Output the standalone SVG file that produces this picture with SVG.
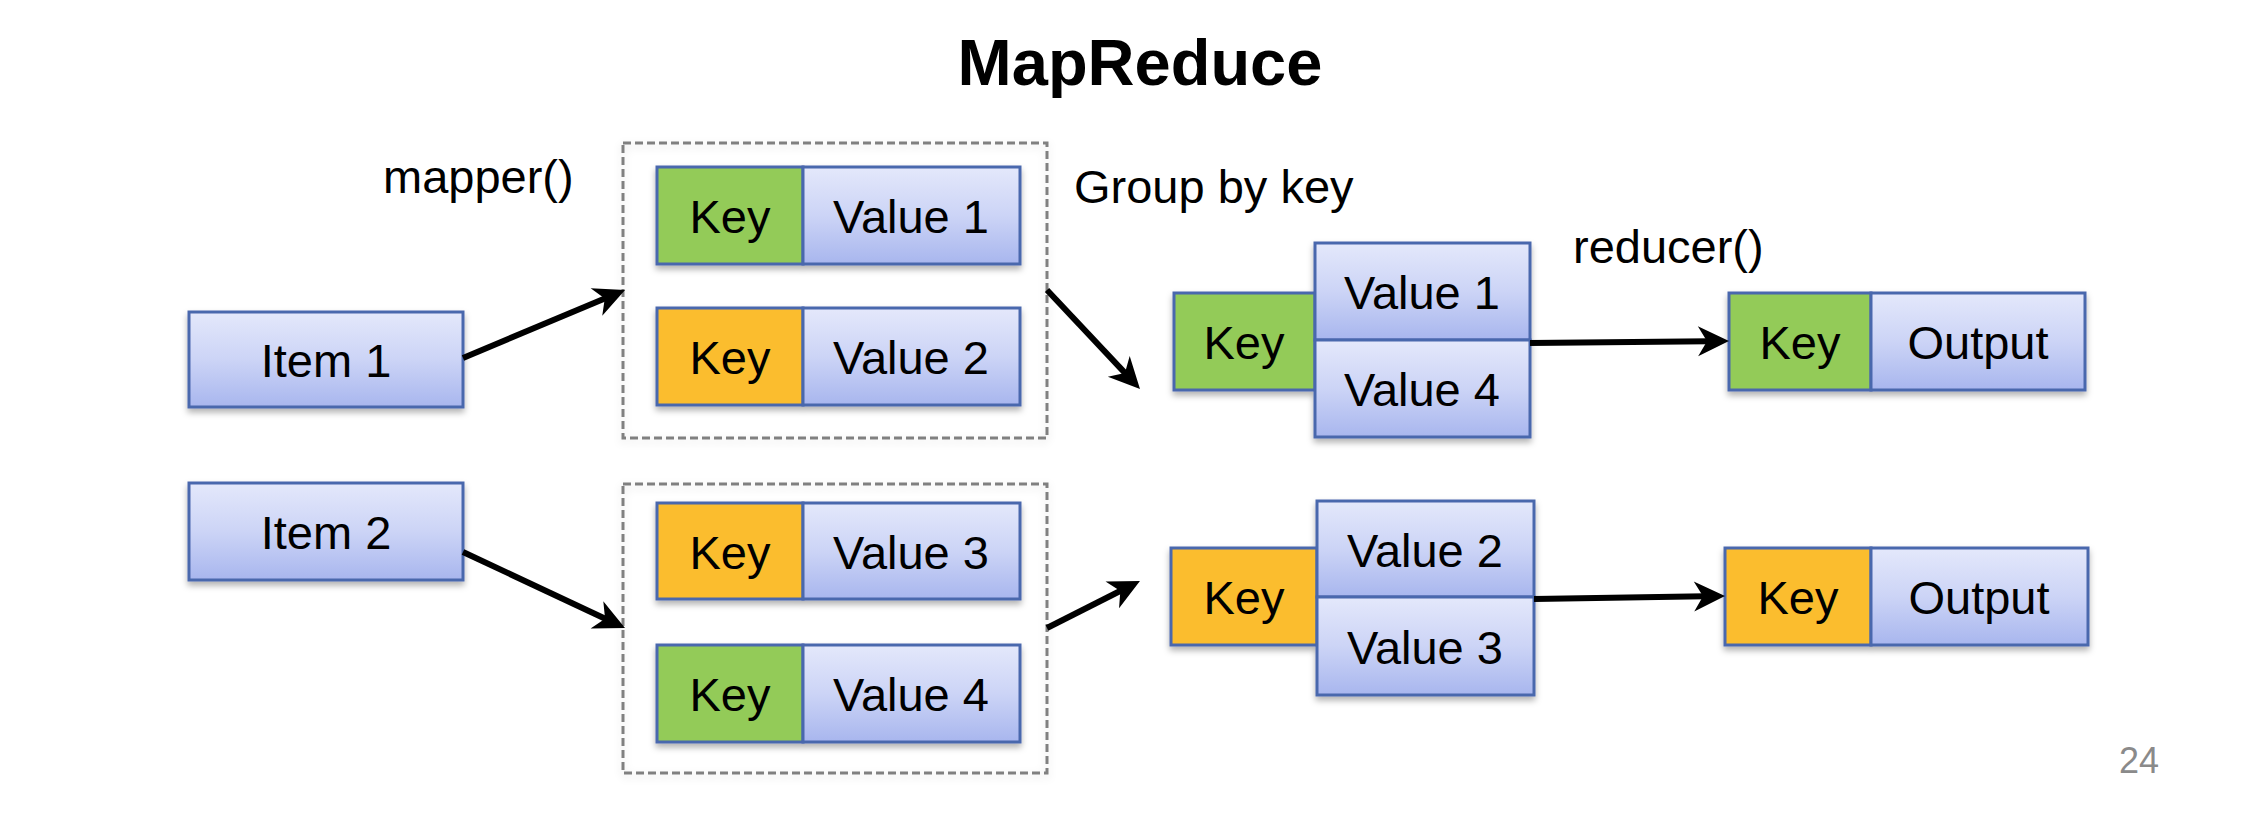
<svg xmlns="http://www.w3.org/2000/svg" width="2266" height="824" viewBox="0 0 2266 824">
<style>
  .lbl { font-family: "Liberation Sans", Arial, Helvetica, sans-serif; font-size: 47px; fill: #000; }
  .c { text-anchor: middle; }
  .title { font-family: "Liberation Sans", Arial, Helvetica, sans-serif; font-size: 65px; font-weight: bold; fill: #000; text-anchor: middle; }
  .pg { font-family: "Liberation Sans", Arial, Helvetica, sans-serif; font-size: 36px; fill: #8a8a8a; }
  .val { fill: url(#vg); stroke: #4a67ad; stroke-width: 3; }
  .kg { fill: #93cb58; stroke: #4a67ad; stroke-width: 3; }
  .ko { fill: #fbbd2e; stroke: #4a67ad; stroke-width: 3; }
  .dash { fill: none; stroke: #808080; stroke-width: 3; stroke-dasharray: 8 4; }
  .sh { filter: url(#ds); }
  .conn line { stroke: #000; stroke-width: 6; marker-end: url(#ah); }
</style>
<defs>
  <linearGradient id="vg" x1="0" y1="0" x2="0" y2="1">
    <stop offset="0" stop-color="#e4e8fb"/>
    <stop offset="0.5" stop-color="#ccd4f6"/>
    <stop offset="1" stop-color="#a8b6ee"/>
  </linearGradient>
  <filter id="ds" x="-10%" y="-10%" width="120%" height="130%">
    <feDropShadow dx="0" dy="4" stdDeviation="3" flood-color="#000" flood-opacity="0.3"/>
  </filter>
  <filter id="ds2" x="-10%" y="-10%" width="120%" height="120%">
    <feDropShadow dx="0" dy="3" stdDeviation="4" flood-color="#000" flood-opacity="0.12"/>
  </filter>
  <marker id="ah" markerUnits="userSpaceOnUse" viewBox="-14 -17 36 34" refX="0" refY="0" markerWidth="36" markerHeight="34" orient="auto">
    <path d="M20,0 L-11,-15 L-2,0 L-11,15 Z" fill="#000"/>
  </marker>
</defs>

<rect x="0" y="0" width="2266" height="824" fill="#fff"/>

<text class="title" x="1140" y="85">MapReduce</text>
<text class="lbl" x="383" y="193">mapper()</text>
<text class="lbl" x="1074" y="203">Group by key</text>
<text class="lbl" x="1573" y="263">reducer()</text>
<text class="pg" x="2119" y="773">24</text>

<g id="item1">
  <rect class="val sh" x="189" y="312" width="274" height="95"/>
  <text class="lbl c" x="326" y="377">Item 1</text>
</g>
<g id="item2">
  <rect class="val sh" x="189" y="483" width="274" height="97"/>
  <text class="lbl c" x="326" y="549">Item 2</text>
</g>

<g id="map1">
  <rect class="dash" x="623" y="143" width="424" height="295" style="filter:url(#ds2)"/>
  <g class="sh">
    <rect class="kg" x="657" y="167" width="146" height="97"/>
    <rect class="val" x="803" y="167" width="217" height="97"/>
    <rect class="ko" x="657" y="308" width="146" height="97"/>
    <rect class="val" x="803" y="308" width="217" height="97"/>
  </g>
  <text class="lbl c" x="730" y="233">Key</text>
  <text class="lbl c" x="911" y="233">Value 1</text>
  <text class="lbl c" x="730" y="374">Key</text>
  <text class="lbl c" x="911" y="374">Value 2</text>
</g>

<g id="map2">
  <rect class="dash" x="623" y="484" width="424" height="289" style="filter:url(#ds2)"/>
  <g class="sh">
    <rect class="ko" x="657" y="503" width="146" height="96"/>
    <rect class="val" x="803" y="503" width="217" height="96"/>
    <rect class="kg" x="657" y="645" width="146" height="97"/>
    <rect class="val" x="803" y="645" width="217" height="97"/>
  </g>
  <text class="lbl c" x="730" y="569">Key</text>
  <text class="lbl c" x="911" y="569">Value 3</text>
  <text class="lbl c" x="730" y="711">Key</text>
  <text class="lbl c" x="911" y="711">Value 4</text>
</g>

<g id="group1">
  <g class="sh">
    <rect class="kg" x="1174" y="293" width="141" height="97"/>
    <rect class="val" x="1315" y="243" width="215" height="97"/>
    <rect class="val" x="1315" y="340" width="215" height="97"/>
  </g>
  <text class="lbl c" x="1244" y="359">Key</text>
  <text class="lbl c" x="1422" y="309">Value 1</text>
  <text class="lbl c" x="1422" y="406">Value 4</text>
</g>

<g id="group2">
  <g class="sh">
    <rect class="ko" x="1171" y="548" width="146" height="97"/>
    <rect class="val" x="1317" y="501" width="217" height="96"/>
    <rect class="val" x="1317" y="597" width="217" height="98"/>
  </g>
  <text class="lbl c" x="1244" y="614">Key</text>
  <text class="lbl c" x="1425" y="567">Value 2</text>
  <text class="lbl c" x="1425" y="664">Value 3</text>
</g>

<g id="out1">
  <g class="sh">
    <rect class="kg" x="1729" y="293" width="142" height="97"/>
    <rect class="val" x="1871" y="293" width="214" height="97"/>
  </g>
  <text class="lbl c" x="1800" y="359">Key</text>
  <text class="lbl c" x="1978" y="359">Output</text>
</g>

<g id="out2">
  <g class="sh">
    <rect class="ko" x="1725" y="548" width="146" height="97"/>
    <rect class="val" x="1871" y="548" width="217" height="97"/>
  </g>
  <text class="lbl c" x="1798" y="614">Key</text>
  <text class="lbl c" x="1979" y="614">Output</text>
</g>

<g id="connectors" class="conn">
  <line x1="463" y1="358" x2="606.6" y2="297.7"/>
  <line x1="463" y1="552" x2="606.9" y2="619.5"/>
  <line x1="1047" y1="290" x2="1126.3" y2="374.4"/>
  <line x1="1047" y1="628" x2="1122.1" y2="590"/>
  <line x1="1530" y1="343" x2="1709" y2="341.2"/>
  <line x1="1534" y1="599" x2="1705" y2="596.3"/>
</g>
</svg>
